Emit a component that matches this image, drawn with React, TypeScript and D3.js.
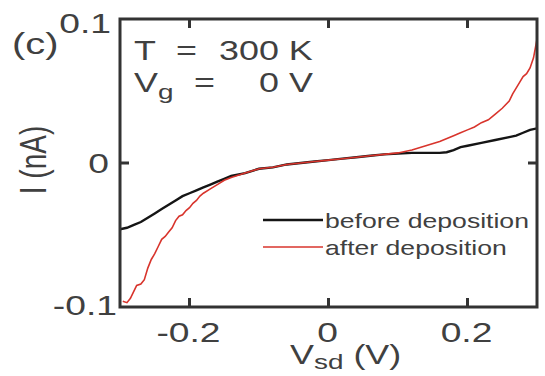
import React from "react";
import * as d3 from "d3";

// source-drain voltage (V) and current (nA)
const beforeV = [-0.3, -0.29, -0.28, -0.27, -0.26, -0.25, -0.24, -0.23, -0.22, -0.21, -0.2, -0.19, -0.18, -0.17, -0.16, -0.15, -0.14, -0.12, -0.1, -0.08, -0.06, -0.04, -0.02, 0, 0.02, 0.04, 0.06, 0.08, 0.1, 0.12, 0.14, 0.16, 0.17, 0.18, 0.19, 0.2, 0.22, 0.24, 0.26, 0.27, 0.28, 0.29, 0.3];
const beforeI = [-0.046, -0.045, -0.043, -0.041, -0.038, -0.035, -0.032, -0.029, -0.026, -0.023, -0.021, -0.019, -0.017, -0.015, -0.013, -0.011, -0.009, -0.007, -0.004, -0.003, -0.001, 0.0, 0.001, 0.002, 0.003, 0.004, 0.005, 0.006, 0.0065, 0.007, 0.007, 0.007, 0.0075, 0.009, 0.011, 0.012, 0.014, 0.016, 0.018, 0.019, 0.021, 0.023, 0.024];

const afterV = [-0.296, -0.29, -0.285, -0.28, -0.276, -0.27, -0.265, -0.26, -0.255, -0.25, -0.245, -0.24, -0.235, -0.23, -0.225, -0.22, -0.215, -0.21, -0.205, -0.2, -0.195, -0.19, -0.185, -0.18, -0.17, -0.16, -0.15, -0.14, -0.12, -0.1, -0.08, -0.06, -0.04, -0.02, 0, 0.02, 0.04, 0.06, 0.08, 0.1, 0.12, 0.14, 0.16, 0.18, 0.19, 0.2, 0.21, 0.22, 0.23, 0.24, 0.25, 0.26, 0.265, 0.27, 0.275, 0.28, 0.285, 0.29, 0.295, 0.3];
const afterI = [-0.096, -0.097, -0.094, -0.089, -0.085, -0.084, -0.081, -0.073, -0.067, -0.063, -0.058, -0.053, -0.051, -0.048, -0.045, -0.04, -0.037, -0.036, -0.033, -0.031, -0.028, -0.026, -0.023, -0.021, -0.018, -0.015, -0.012, -0.01, -0.007, -0.004, -0.003, -0.001, 0.0, 0.001, 0.002, 0.003, 0.004, 0.005, 0.006, 0.007, 0.009, 0.012, 0.015, 0.019, 0.021, 0.023, 0.025, 0.028, 0.03, 0.034, 0.038, 0.043, 0.048, 0.052, 0.056, 0.06, 0.062, 0.066, 0.073, 0.086];

const xTicks = [-0.2, 0, 0.2];
const xTickLabels = ["-0.2", "0", "0.2"];
const yTicks = [0.1, 0, -0.1];
const yTickLabels = ["0.1", "0", "-0.1"];
const legendLabels = ["before deposition", "after deposition"];

const FONT = "'Liberation Sans', Arial, sans-serif";
const TXT = "#404040";
const SX = 1.33; // the figure is stretched sideways

const Txt = ({ x, y, size, anchor = "start", children }: any) => (
  <text
    transform={`translate(${x},${y}) scale(${SX},1)`}
    fontSize={size}
    fontFamily={FONT}
    fill={TXT}
    textAnchor={anchor}
  >
    {children}
  </text>
);

const App = () => {
  const left = 120, right = 537, top = 19, bottom = 307;

  const x = d3.scaleLinear().domain([-0.3, 0.3]).range([left, right]);
  const y = d3.scaleLinear().domain([-0.1, 0.1]).range([bottom, top]);

  const line = d3
    .line<[number, number]>()
    .x((d) => x(d[0]))
    .y((d) => y(d[1]));

  const before = beforeV.map((v, i) => [v, beforeI[i]] as [number, number]);
  const after = afterV.map((v, i) => [v, afterI[i]] as [number, number]);

  const tk = 9;

  return (
    <svg width={545} height={376} style={{ position: "absolute", left: 0, top: 0, background: "#fff" }}>
      {/* curves */}
      <path d={line(before) || ""} fill="none" stroke="#151515" strokeWidth={2.4} />
      <path d={line(after) || ""} fill="none" stroke="#d8342c" strokeWidth={1.6} />

      {/* frame */}
      <rect x={left} y={top} width={right - left} height={bottom - top} fill="none" stroke="#333" strokeWidth={3} />

      {/* x ticks, bottom and top */}
      {xTicks.map((t, i) => (
        <g key={"x" + i}>
          <line x1={x(t)} x2={x(t)} y1={bottom} y2={bottom - tk} stroke="#333" strokeWidth={3} />
          <line x1={x(t)} x2={x(t)} y1={top} y2={top + tk} stroke="#333" strokeWidth={3} />
          <Txt x={x(t) - 1} y={342} size={28} anchor="middle">{xTickLabels[i]}</Txt>
        </g>
      ))}

      {/* y ticks, left and right */}
      <line x1={left} x2={left + tk} y1={y(0)} y2={y(0)} stroke="#333" strokeWidth={3} />
      <line x1={right} x2={right - tk} y1={y(0)} y2={y(0)} stroke="#333" strokeWidth={3} />
      {yTicks.map((t, i) => (
        <Txt key={"y" + i} x={t === 0.1 ? 111 : t === 0 ? 109 : 117} y={t === 0.1 ? 33 : t === 0 ? 173 : 315} size={28} anchor="end">
          {yTickLabels[i]}
        </Txt>
      ))}

      {/* axis titles */}
      <text
        transform={`translate(46,160) scale(${SX},1) rotate(-90)`}
        fontSize={28}
        fontFamily={FONT}
        fill={TXT}
        textAnchor="middle"
      >
        I (nA)
      </text>
      <g transform={`translate(290,364) scale(${SX},1)`}>
        <text fontSize={27} fontFamily={FONT} fill={TXT}>
          V<tspan fontSize={21} dy={5}>sd</tspan>
          <tspan dy={-5}> (V)</tspan>
        </text>
      </g>

      {/* panel label and conditions */}
      <Txt x={12} y={54} size={30}>(c)</Txt>
      <Txt x={134} y={60} size={27}>T</Txt>
      <Txt x={176} y={60} size={27}>=</Txt>
      <Txt x={219} y={60} size={27}>300 K</Txt>
      <g transform={`translate(134,92) scale(${SX},1)`}>
        <text fontSize={27} fontFamily={FONT} fill={TXT}>
          V<tspan fontSize={21} dy={7}>g</tspan>
        </text>
      </g>
      <Txt x={194} y={92} size={27}>=</Txt>
      <Txt x={259} y={92} size={27}>0 V</Txt>

      {/* legend */}
      {legendLabels.map((lab, i) => (
        <g key={lab}>
          <line x1={263} x2={323} y1={220 + i * 27} y2={220 + i * 27} stroke={i === 0 ? "#151515" : "#d8342c"} strokeWidth={i === 0 ? 2.4 : 1.6} />
          <Txt x={325} y={228 + i * 27} size={20}>{lab}</Txt>
        </g>
      ))}
    </svg>
  );
};

export default App;
